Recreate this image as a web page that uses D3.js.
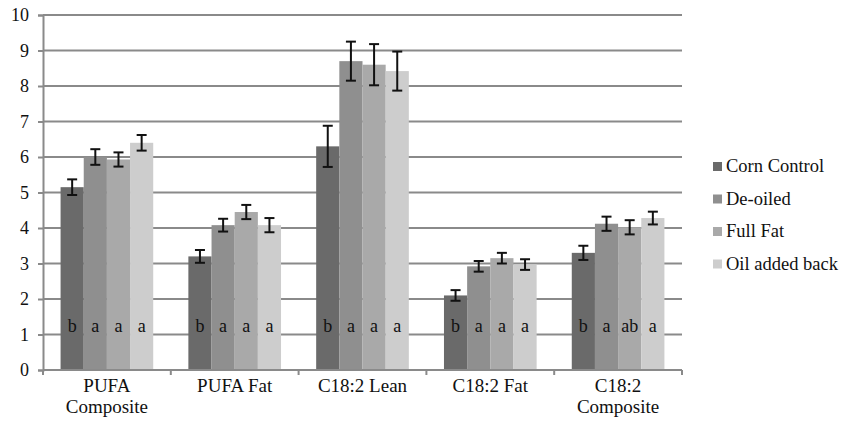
<!DOCTYPE html>
<html><head><meta charset="utf-8">
<script src="https://cdn.jsdelivr.net/npm/d3@7"></script>
<style>body{margin:0;background:#fff}svg{display:block}svg text{fill:#111}</style>
</head><body><svg id="c" width="843" height="427"></svg>
<script>
const categories = [["PUFA","Composite"],["PUFA Fat"],["C18:2 Lean"],["C18:2 Fat"],["C18:2","Composite"]];
const series = ["Corn Control","De-oiled","Full Fat","Oil added back"];
const colors = ["#6a6a6a","#8f8f8f","#a9a9a9","#cdcdcd"];
const cornControl = [5.15, 3.2, 6.3, 2.1, 3.3];
const deOiled = [6.0, 4.08, 8.7, 2.92, 4.12];
const fullFat = [5.93, 4.45, 8.6, 3.15, 4.02];
const oilAdded = [6.4, 4.08, 8.42, 2.97, 4.28];
const errCorn = [0.22, 0.18, 0.58, 0.15, 0.2];
const errDeOiled = [0.22, 0.18, 0.55, 0.15, 0.2];
const errFull = [0.2, 0.2, 0.58, 0.15, 0.2];
const errOil = [0.22, 0.2, 0.55, 0.15, 0.18];
const letters = [["b","a","a","a"],["b","a","a","a"],["b","a","a","a"],["b","a","a","a"],["b","a","ab","a"]];
const yTicks = [0,1,2,3,4,5,6,7,8,9,10];

const values = [cornControl, deOiled, fullFat, oilAdded];
const errs = [errCorn, errDeOiled, errFull, errOil];
const FONT = '"Liberation Serif","Tinos","Times New Roman","DejaVu Serif",serif';

const svg = d3.select("#c");
const L = 43, R = 682, T = 15, B = 370;
const x = d3.scaleBand().domain(d3.range(categories.length)).range([L, R]).paddingInner(0.275).paddingOuter(0.1375);
const xs = d3.scaleBand().domain(d3.range(series.length)).range([0, x.bandwidth()]);
const y = d3.scaleLinear().domain([0, 10]).range([B, T]);

// gridlines
svg.append("g").selectAll("line").data(yTicks.filter(d => d > 0)).join("line")
  .attr("x1", L).attr("x2", R).attr("y1", d => y(d)).attr("y2", d => y(d))
  .attr("stroke", "#8a8a8a").attr("stroke-width", 2);

// y axis
const ya = svg.append("g").attr("transform", `translate(${L},0)`)
  .call(d3.axisLeft(y).tickValues(yTicks).tickSize(5).tickPadding(9).tickFormat(d3.format("d")));
ya.attr("font-family", FONT);
ya.select(".domain").attr("stroke", "#8a8a8a").attr("stroke-width", 2);
ya.selectAll(".tick line").attr("stroke", "#8a8a8a").attr("stroke-width", 2);
ya.selectAll("text").attr("font-size", 18).attr("fill", "#111");

// bars
const step = (R - L) / categories.length;
series.forEach((s, si) => {
  const g = svg.append("g");
  g.selectAll("rect").data(values[si]).join("rect")
    .attr("x", (d, i) => x(i) + xs(si)).attr("width", xs.bandwidth())
    .attr("y", d => y(d)).attr("height", d => B - y(d)).attr("fill", colors[si]);
});

// x axis baseline and ticks
svg.append("line").attr("x1", L).attr("x2", R).attr("y1", B).attr("y2", B).attr("stroke", "#8a8a8a").attr("stroke-width", 2);
svg.append("g").selectAll("line").data(d3.range(categories.length + 1)).join("line")
  .attr("x1", i => L + i * step).attr("x2", i => L + i * step).attr("y1", B).attr("y2", B + 5)
  .attr("stroke", "#8a8a8a").attr("stroke-width", 2);

// error bars
series.forEach((s, si) => {
  const g = svg.append("g").attr("stroke", "#111").attr("stroke-width", 2);
  values[si].forEach((v, i) => {
    const cx = x(i) + xs(si) + xs.bandwidth() / 2;
    const e = errs[si][i];
    g.append("line").attr("x1", cx).attr("x2", cx).attr("y1", y(v + e)).attr("y2", y(v - e));
    g.append("line").attr("x1", cx - 5).attr("x2", cx + 5).attr("y1", y(v + e)).attr("y2", y(v + e));
    g.append("line").attr("x1", cx - 5).attr("x2", cx + 5).attr("y1", y(v - e)).attr("y2", y(v - e));
  });
});

// letters
letters.forEach((row, i) => {
  row.forEach((t, si) => {
    svg.append("text").attr("x", x(i) + xs(si) + xs.bandwidth() / 2).attr("y", y(1.08))
      .attr("text-anchor", "middle").attr("font-family", FONT).attr("font-size", 18).text(t);
  });
});

// category labels
categories.forEach((lines, i) => {
  lines.forEach((t, li) => {
    svg.append("text").attr("x", L + (i + 0.5) * step).attr("y", 392 + li * 21)
      .attr("text-anchor", "middle").attr("font-family", FONT).attr("font-size", 19).text(t);
  });
});

// legend
const lg = svg.append("g");
series.forEach((s, si) => {
  const yy = 166 + si * 32.5;
  lg.append("rect").attr("x", 713).attr("y", yy - 4).attr("width", 9).attr("height", 9).attr("fill", colors[si]);
  lg.append("text").attr("x", 726).attr("y", yy + 6).attr("font-family", FONT).attr("font-size", 18.5).text(s);
});
</script></body></html>
